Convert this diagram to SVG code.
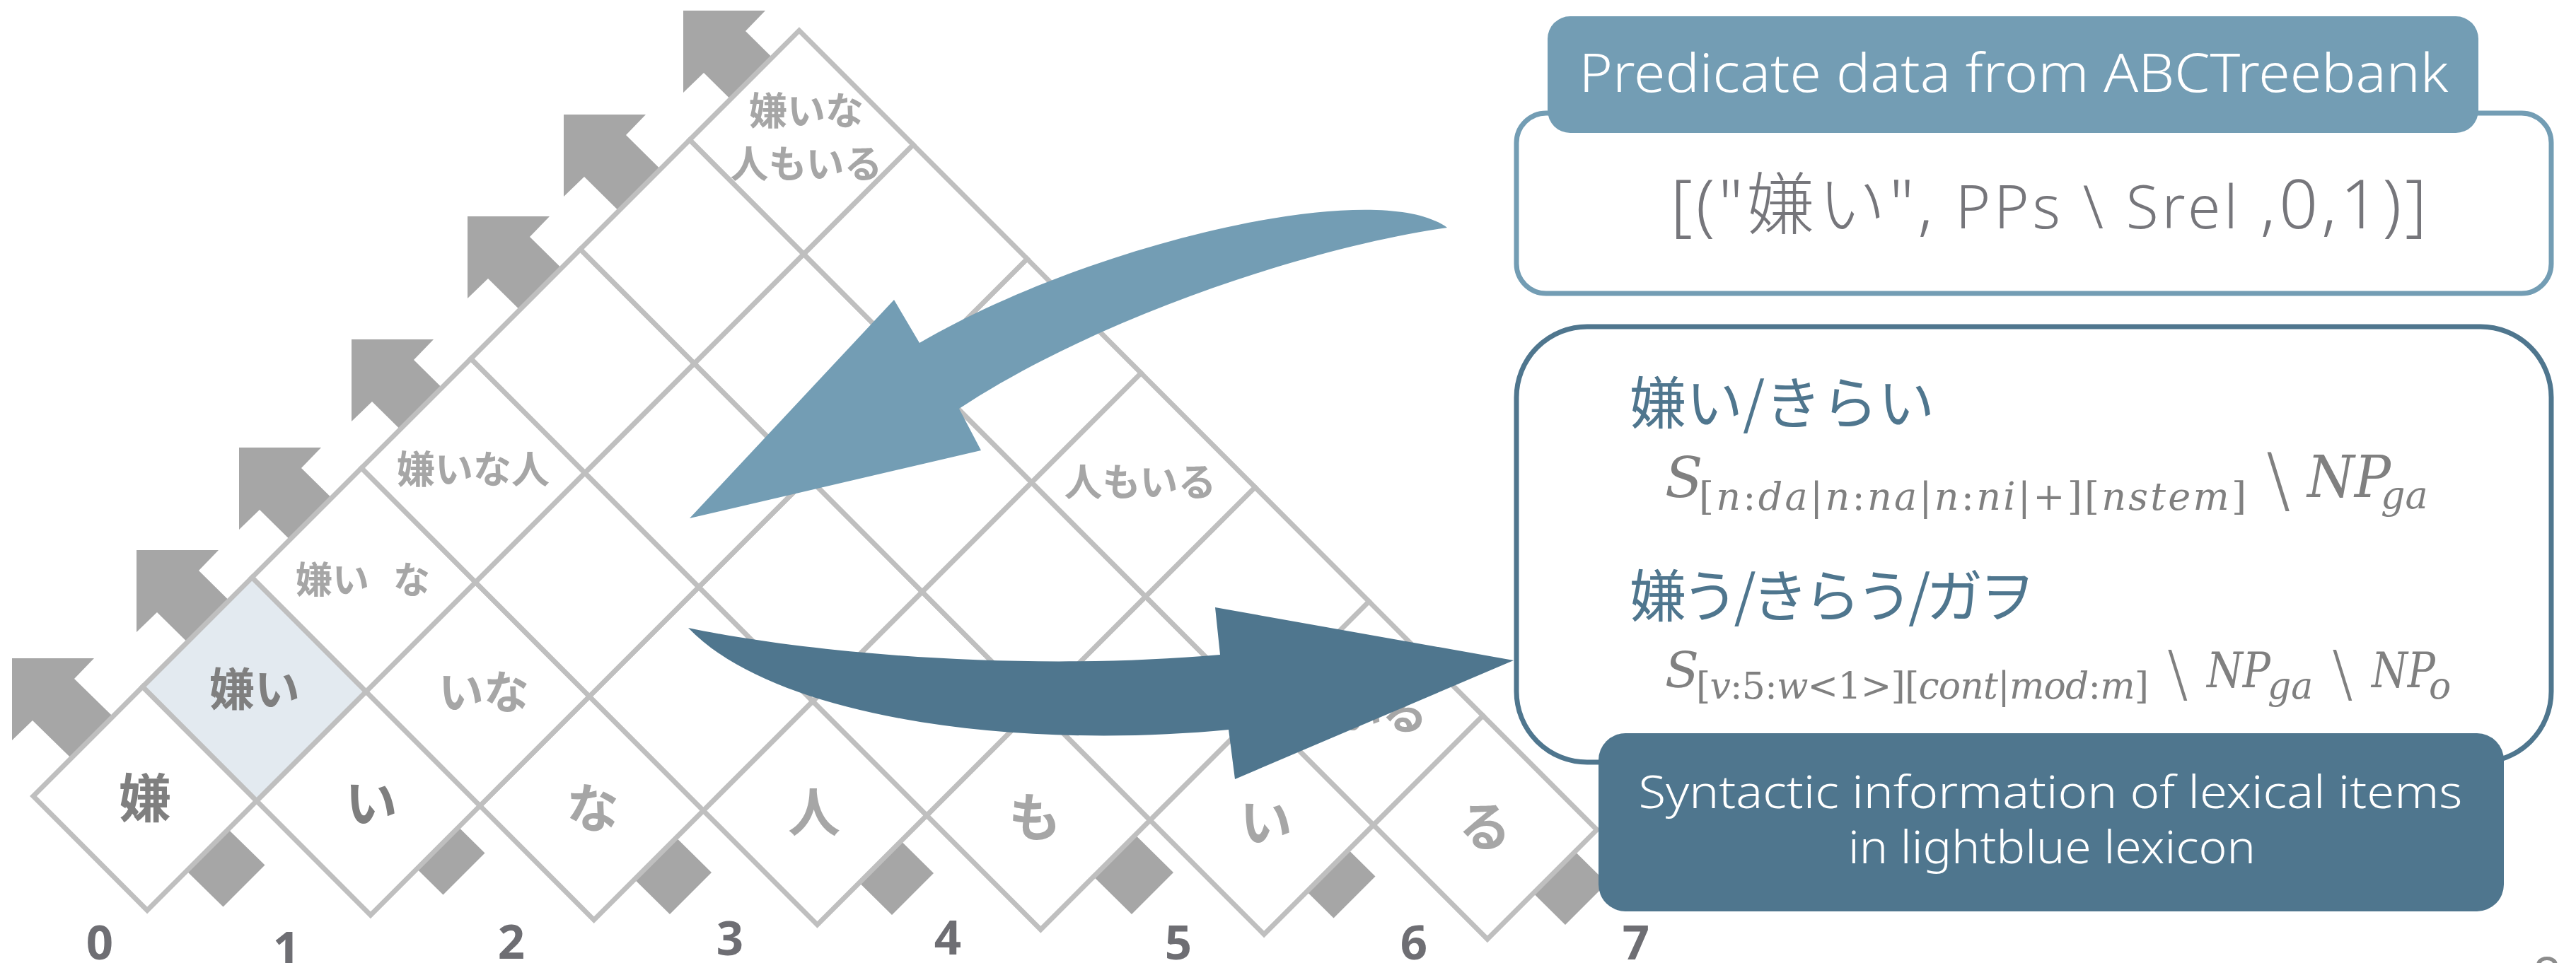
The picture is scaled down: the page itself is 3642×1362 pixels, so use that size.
<svg xmlns="http://www.w3.org/2000/svg" width="3642" height="1362" viewBox="0 0 3642 1362">
<style>
.bg{fill:#FFFFFF}
.garrow{fill:#A6A6A6}
.cell{fill:#FFFFFF;stroke:#BFBFBF;stroke-width:7;stroke-linejoin:miter}
.hl{fill:#E3EAF0}
.lbl{font-family:"Noto Sans CJK JP","Noto Sans",sans-serif;font-weight:700;text-anchor:middle}
.dk{fill:#7F7F7F}
.lt{fill:#A6A6A6}
.num{font-family:"Noto Sans","DejaVu Sans",sans-serif;font-weight:700;font-size:67px;fill:#6E6E73;text-anchor:middle}
.light{font-family:"Noto Sans","Noto Sans CJK JP",sans-serif;font-weight:300}
.jp{font-family:"Noto Sans CJK JP",sans-serif;font-size:80px;fill:#4F768E}
.math{font-family:"DejaVu Serif","Liberation Serif",serif;fill:#808080}
.bs{font-family:"DejaVu Sans",sans-serif;font-weight:200;fill:#808080}
.it{font-style:italic}
.arrowL{fill:#739DB4}
.arrowD{fill:#4F768E}
</style>
<rect class="bg" x="0" y="0" width="3642" height="1362"/>

<g id="diagonal-arrows">
<polygon class="garrow" points="17,931 133,931 105,960 374.5,1223.5 315.5,1282.5 46,1019 17,1047"/>
<polygon class="garrow" points="193,778 309,778 281,807 685.5,1206.5 626.5,1265.5 222,866 193,894"/>
<polygon class="garrow" points="338,633 454,633 426,662 1006,1234 947,1293 367,721 338,749"/>
<polygon class="garrow" points="497,480 613,480 585,509 1320,1235 1261,1294 526,568 497,596"/>
<polygon class="garrow" points="661,306 777,306 749,335 1659,1234 1600,1293 690,394 661,422"/>
<polygon class="garrow" points="797,162 913,162 885,191 1944.5,1239.5 1885.5,1298.5 826,250 797,278"/>
<polygon class="garrow" points="966,15 1082,15 1054,44 2272,1249 2213,1308 995,103 966,131"/>
</g>

<g id="chart">
<g id="cell-0-0"><polygon class="cell" points="47,1126 201.7,971.3 362.8,1132.8 208.1,1287.5"/><text class="lbl dk" x="205" y="1156" font-size="74">嫌</text></g>
<g id="cell-0-1"><polygon class="cell" points="362.8,1132.8 517.5,978.1 678.6,1139.6 523.9,1294.3"/><text class="lbl dk" x="525" y="1163" font-size="74">い</text></g>
<g id="cell-0-2"><polygon class="cell" points="678.6,1139.6 833.3,984.9 994.4,1146.4 839.7,1301.1"/><text class="lbl lt" x="838" y="1170" font-size="74">な</text></g>
<g id="cell-0-3"><polygon class="cell" points="994.4,1146.4 1149.1,991.7 1310.2,1153.2 1155.5,1307.9"/><text class="lbl lt" x="1151" y="1176" font-size="74">人</text></g>
<g id="cell-0-4"><polygon class="cell" points="1310.2,1153.2 1464.9,998.5 1626,1160 1471.3,1314.7"/><text class="lbl lt" x="1463" y="1183" font-size="74">も</text></g>
<g id="cell-0-5"><polygon class="cell" points="1626,1160 1780.7,1005.3 1941.8,1166.8 1787.1,1321.5"/><text class="lbl lt" x="1790" y="1190" font-size="74">い</text></g>
<g id="cell-0-6"><polygon class="cell" points="1941.8,1166.8 2096.5,1012.1 2257.6,1173.6 2102.9,1328.3"/><text class="lbl lt" x="2099" y="1196" font-size="74">る</text></g>
<g id="cell-1-0"><polygon class="cell hl" points="201.7,971.3 356.4,816.6 517.5,978.1 362.8,1132.8"/><text class="lbl dk" x="360" y="998" font-size="64">嫌い</text></g>
<g id="cell-1-1"><polygon class="cell" points="517.5,978.1 672.2,823.4 833.3,984.9 678.6,1139.6"/><text class="lbl lt" x="684" y="1002" font-size="64">いな</text></g>
<g id="cell-1-2"><polygon class="cell" points="833.3,984.9 988,830.2 1149.1,991.7 994.4,1146.4"/></g>
<g id="cell-1-3"><polygon class="cell" points="1149.1,991.7 1303.8,837 1464.9,998.5 1310.2,1153.2"/></g>
<g id="cell-1-4"><polygon class="cell" points="1464.9,998.5 1619.6,843.8 1780.7,1005.3 1626,1160"/></g>
<g id="cell-1-5"><polygon class="cell" points="1780.7,1005.3 1935.4,850.6 2096.5,1012.1 1941.8,1166.8"/><text class="lbl lt" x="1954" y="1031" font-size="64">いる</text></g>
<g id="cell-2-0"><polygon class="cell" points="356.4,816.6 511.1,661.9 672.2,823.4 517.5,978.1"/><text class="lbl lt" x="513" y="839" font-size="52" word-spacing="22">嫌い な</text></g>
<g id="cell-2-1"><polygon class="cell" points="672.2,823.4 826.9,668.7 988,830.2 833.3,984.9"/></g>
<g id="cell-2-2"><polygon class="cell" points="988,830.2 1142.7,675.5 1303.8,837 1149.1,991.7"/></g>
<g id="cell-2-3"><polygon class="cell" points="1303.8,837 1458.5,682.3 1619.6,843.8 1464.9,998.5"/></g>
<g id="cell-2-4"><polygon class="cell" points="1619.6,843.8 1774.3,689.1 1935.4,850.6 1780.7,1005.3"/></g>
<g id="cell-3-0"><polygon class="cell" points="511.1,661.9 665.8,507.2 826.9,668.7 672.2,823.4"/><text class="lbl lt" x="669" y="684" font-size="54">嫌いな人</text></g>
<g id="cell-3-1"><polygon class="cell" points="826.9,668.7 981.6,514 1142.7,675.5 988,830.2"/></g>
<g id="cell-3-2"><polygon class="cell" points="1142.7,675.5 1297.4,520.8 1458.5,682.3 1303.8,837"/></g>
<g id="cell-3-3"><polygon class="cell" points="1458.5,682.3 1613.2,527.6 1774.3,689.1 1619.6,843.8"/><text class="lbl lt" x="1612" y="702" font-size="54">人もいる</text></g>
<g id="cell-4-0"><polygon class="cell" points="665.8,507.2 820.5,352.5 981.6,514 826.9,668.7"/></g>
<g id="cell-4-1"><polygon class="cell" points="981.6,514 1136.3,359.3 1297.4,520.8 1142.7,675.5"/></g>
<g id="cell-4-2"><polygon class="cell" points="1297.4,520.8 1452.1,366.1 1613.2,527.6 1458.5,682.3"/></g>
<g id="cell-5-0"><polygon class="cell" points="820.5,352.5 975.2,197.8 1136.3,359.3 981.6,514"/></g>
<g id="cell-5-1"><polygon class="cell" points="1136.3,359.3 1291,204.6 1452.1,366.1 1297.4,520.8"/></g>
<g id="cell-6-0"><polygon class="cell" points="975.2,197.8 1129.9,43.1 1291,204.6 1136.3,359.3"/><text class="lbl lt" x="1140" y="177" font-size="54">嫌いな</text><text class="lbl lt" x="1140" y="252" font-size="54">人もいる</text></g>
</g>

<g id="connectors">
<path class="arrowL" d="M1300,485 C1550,340 1950,250 2046,322 C1850,350 1550,450 1356,578 L1387,637 L975,733 L1264,424 Z"/>
<path class="arrowD" d="M973,888 C1150,925 1450,950 1725,926 L1718,859 L2140,934 L1746,1102 L1737,1032 C1450,1060 1100,1020 973,888 Z"/>
</g>

<g id="treebank-box">
<rect x="2144" y="160" width="1463" height="255" rx="42" fill="#FFFFFF" stroke="#739DB4" stroke-width="7"/>
<rect x="2188" y="23" width="1316" height="165" rx="32" fill="#739DB4"/>
<text class="light" x="2847" y="130" text-anchor="middle" font-size="75" fill="#FFFFFF" textLength="1229" lengthAdjust="spacingAndGlyphs">Predicate data from ABCTreebank</text>
<text class="light" x="2362" y="323" fill="#76767B" textLength="1069" lengthAdjust="spacing"><tspan font-size="96">[("嫌い",</tspan><tspan font-size="84"> PPs \ Srel </tspan><tspan font-size="96">,0,1)]</tspan></text>
</g>

<g id="lexicon-box">
<rect x="2144" y="462" width="1463" height="616" rx="100" fill="#FFFFFF" stroke="#4F768E" stroke-width="7"/>
<text class="jp" x="2304" y="599">嫌い/きらい</text>
<text class="math it" x="2354" y="703" font-size="78">S</text>
<text class="math" x="2402" y="721" font-size="54" textLength="774" lengthAdjust="spacing">[<tspan class="it">n</tspan>:<tspan class="it">da</tspan>|<tspan class="it">n</tspan>:<tspan class="it">na</tspan>|<tspan class="it">n</tspan>:<tspan class="it">ni</tspan>|+][<tspan class="it">nstem</tspan>]</text>
<text class="bs" x="3204" y="714" font-size="102">\</text>
<text class="math it" x="3262" y="703" font-size="82" textLength="118" lengthAdjust="spacingAndGlyphs">NP</text>
<text class="math it" x="3366" y="719" font-size="54">ga</text>
<text class="jp" x="2304" y="872" textLength="573" lengthAdjust="spacing">嫌う/きらう/ガヲ</text>
<text class="math it" x="2354" y="972" font-size="70">S</text>
<text class="math" x="2398" y="988" font-size="52" textLength="640" lengthAdjust="spacing">[<tspan class="it">v</tspan>:5:<tspan class="it">w</tspan>&lt;1&gt;][<tspan class="it">cont</tspan>|<tspan class="it">mod</tspan>:<tspan class="it">m</tspan>]</text>
<text class="bs" x="3064" y="983" font-size="88">\</text>
<text class="math it" x="3120" y="972" font-size="70" textLength="90" lengthAdjust="spacingAndGlyphs">NP</text>
<text class="math it" x="3206" y="988" font-size="52">ga</text>
<text class="bs" x="3297" y="983" font-size="88">\</text>
<text class="math it" x="3353" y="972" font-size="70" textLength="90" lengthAdjust="spacingAndGlyphs">NP</text>
<text class="math it" x="3434" y="988" font-size="52">o</text>
</g>

<g id="syntactic-info-box">
<rect x="2260" y="1037" width="1280" height="252" rx="38" fill="#4F768E"/>
<text class="light" x="2899" y="1143" text-anchor="middle" font-size="64" fill="#FFFFFF" textLength="1165" lengthAdjust="spacingAndGlyphs">Syntactic information of lexical items</text>
<text class="light" x="2901" y="1221" text-anchor="middle" font-size="64" fill="#FFFFFF" textLength="576" lengthAdjust="spacingAndGlyphs">in lightblue lexicon</text>
</g>

<g id="positions">
<text class="num" x="141" y="1357">0</text>
<text class="num" x="405" y="1366">1</text>
<text class="num" x="723" y="1356">2</text>
<text class="num" x="1032" y="1351">3</text>
<text class="num" x="1340" y="1350">4</text>
<text class="num" x="1666" y="1357">5</text>
<text class="num" x="1999" y="1357">6</text>
<text class="num" x="2313" y="1357">7</text>
</g>
<text x="3601" y="1404" text-anchor="middle" font-family="Noto Sans, sans-serif" font-size="70" fill="#8C8C8C">8</text>
</svg>
